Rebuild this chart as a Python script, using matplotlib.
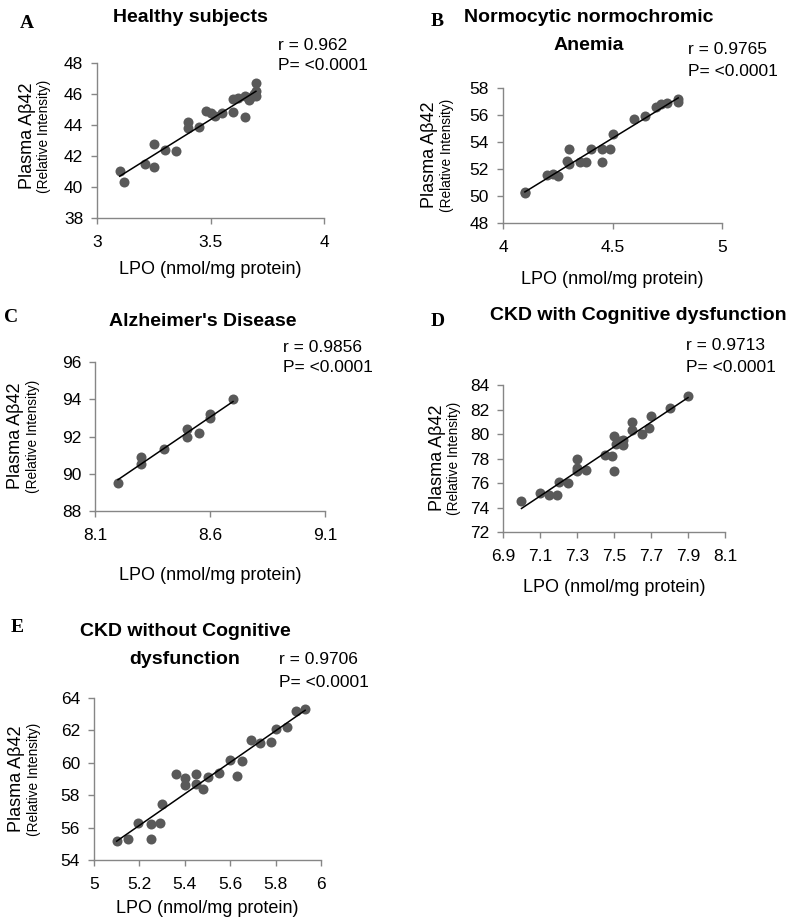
import numpy as np
import matplotlib
matplotlib.use("Agg")
import matplotlib.pyplot as plt

plt.rcParams['font.family'] = ['Liberation Sans', 'DejaVu Sans']

W, H = 794, 921

# ---- data ----
lpo_a = [3.10, 3.12, 3.21, 3.25, 3.25, 3.30, 3.35, 3.40, 3.40, 3.45, 3.48, 3.50,
         3.52, 3.55, 3.60, 3.60, 3.62, 3.65, 3.65, 3.67, 3.68, 3.69, 3.70, 3.70, 3.70]
abeta_a = [41.0, 40.3, 41.5, 42.8, 41.3, 42.4, 42.3, 44.2, 43.8, 43.9, 44.9, 44.75,
           44.6, 44.75, 44.85, 45.7, 45.75, 44.5, 45.9, 45.6, 45.8, 46.0, 46.7, 46.2, 45.9]

lpo_b = [4.10, 4.10, 4.20, 4.23, 4.25, 4.29, 4.30, 4.30, 4.35, 4.38, 4.40, 4.45,
         4.45, 4.49, 4.50, 4.60, 4.65, 4.70, 4.72, 4.75, 4.80, 4.80]
abeta_b = [50.2, 50.3, 51.55, 51.6, 51.5, 52.6, 53.5, 52.4, 52.5, 52.5, 53.5, 53.5,
           52.5, 53.5, 54.6, 55.7, 55.9, 56.6, 56.8, 56.9, 57.0, 57.2]

lpo_c = [8.20, 8.30, 8.30, 8.40, 8.50, 8.50, 8.55, 8.60, 8.60, 8.70]
abeta_c = [89.5, 90.9, 90.5, 91.35, 92.4, 92.0, 92.2, 93.2, 93.0, 94.0]

lpo_d = [7.00, 7.10, 7.15, 7.19, 7.20, 7.25, 7.30, 7.30, 7.30, 7.35, 7.45, 7.49,
         7.50, 7.50, 7.51, 7.53, 7.55, 7.55, 7.60, 7.60, 7.65, 7.69, 7.70, 7.80, 7.90]
abeta_d = [74.55, 75.2, 75.0, 75.05, 76.1, 76.0, 78.0, 77.25, 77.0, 77.1, 78.3, 78.2,
           77.0, 79.8, 79.2, 79.4, 79.1, 79.5, 81.0, 80.3, 80.0, 80.5, 81.5, 82.1, 83.1]

lpo_e = [5.10, 5.15, 5.195, 5.25, 5.25, 5.29, 5.30, 5.36, 5.40, 5.40, 5.45, 5.45,
         5.48, 5.50, 5.55, 5.60, 5.63, 5.65, 5.69, 5.73, 5.78, 5.80, 5.85, 5.89, 5.93]
abeta_e = [55.2, 55.3, 56.3, 56.2, 55.3, 56.3, 57.45, 59.3, 59.05, 58.6, 59.3, 58.7,
           58.4, 59.1, 59.4, 60.2, 59.2, 60.1, 61.4, 61.2, 61.3, 62.1, 62.2, 63.2, 63.3]

xticks_a = [3, 3.5, 4];  xlabels_a = ['3', '3.5', '4']
xticks_b = [4, 4.5, 5];  xlabels_b = ['4', '4.5', '5']
xticks_c = [8.1, 8.6, 9.1];  xlabels_c = ['8.1', '8.6', '9.1']
xticks_d = [6.9, 7.1, 7.3, 7.5, 7.7, 7.9, 8.1]
xlabels_d = ['6.9', '7.1', '7.3', '7.5', '7.7', '7.9', '8.1']
xticks_e = [5, 5.2, 5.4, 5.6, 5.8, 6]
xlabels_e = ['5', '5.2', '5.4', '5.6', '5.8', '6']
yticks_a = [38, 40, 42, 44, 46, 48]
yticks_b = [48, 50, 52, 54, 56, 58]
yticks_c = [88, 90, 92, 94, 96]
yticks_d = [72, 74, 76, 78, 80, 82, 84]
yticks_e = [54, 56, 58, 60, 62, 64]

r_values = ['0.962', '0.9765', '0.9856', '0.9713', '0.9706']
titles = [['Healthy subjects'],
          ['Normocytic normochromic', 'Anemia'],
          ["Alzheimer's Disease"],
          ['CKD with Cognitive dysfunction'],
          ['CKD without Cognitive', 'dysfunction']]
letters = ['A', 'B', 'C', 'D', 'E']

fig = plt.figure(figsize=(W / 100, H / 100), dpi=100)


def px(x, y):
    return x / W, 1 - y / H


def make_axes(l, t, r, b):
    return fig.add_axes([l / W, 1 - b / H, (r - l) / W, (b - t) / H])


def draw(ax, x, y, xt, xl, yt):
    ax.scatter(x, y, s=52, color='#595959', zorder=2, linewidths=0)
    k, c = np.polyfit(x, y, 1)
    xs = np.array([min(x), max(x)])
    ax.plot(xs, k * xs + c, color='black', lw=1.1, zorder=3)
    ax.set_xlim(xt[0], xt[-1])
    ax.set_ylim(yt[0], yt[-1])
    ax.set_xticks(xt)
    ax.set_xticklabels(xl)
    ax.set_yticks(yt)
    for s in ['top', 'right']:
        ax.spines[s].set_visible(False)
    for s in ['left', 'bottom']:
        ax.spines[s].set_color('#868686')
        ax.spines[s].set_linewidth(1)
    ax.tick_params(axis='both', colors='#868686', length=4, width=1, labelsize=12.5,
                   labelcolor='black')
    ax.tick_params(axis='x', pad=8)
    ax.tick_params(axis='y', pad=6)


panels = [
    (lpo_a, abeta_a, xticks_a, xlabels_a, yticks_a, (97, 63, 324, 218)),
    (lpo_b, abeta_b, xticks_b, xlabels_b, yticks_b, (503, 88, 722, 223)),
    (lpo_c, abeta_c, xticks_c, xlabels_c, yticks_c, (95, 362, 325, 511)),
    (lpo_d, abeta_d, xticks_d, xlabels_d, yticks_d, (503, 385, 725, 532)),
    (lpo_e, abeta_e, xticks_e, xlabels_e, yticks_e, (94, 698, 321, 860)),
]

# text positions in pixels
letter_pos = [(27, 23), (437, 22), (11, 318), (438, 322), (17, 627)]
title_pos = [(190, 18), (589, 18), (203, 322), (638, 315), (185, 632)]
title_gap = 27
stat_pos = [(278, 46, 66), (688, 50, 71), (283, 348, 368), (686, 346, 367), (279, 660, 682)]
ylab_pos = [(27, 44, 136), (430, 447, 155), (16, 33, 436), (437, 454, 458), (17, 34, 779)]
xlab_y = [270, 279, 575, 588, 908]

for i, (x, y, xt, xl, yt, box) in enumerate(panels):
    ax = make_axes(*box)
    draw(ax, x, y, xt, xl, yt)
    cx = (box[0] + box[2]) / 2

    fig.text(*px(*letter_pos[i]), letters[i], family='Liberation Serif',
             fontweight='bold', fontsize=14, ha='center', va='center')
    tx, ty = title_pos[i]
    for j, line in enumerate(titles[i]):
        fig.text(*px(tx, ty + j * title_gap), line, fontweight='bold', fontsize=14,
                 ha='center', va='center')
    sx, ry, py = stat_pos[i]
    fig.text(*px(sx, ry), 'r = ' + r_values[i], fontsize=12.5, ha='left', va='center')
    fig.text(*px(sx, py), 'P= <0.0001', fontsize=12.5, ha='left', va='center')
    l1, l2, yc = ylab_pos[i]
    fig.text(*px(l1, yc), 'Plasma Aβ42', fontsize=13, rotation=90,
             ha='center', va='center')
    fig.text(*px(l2, yc), '(Relative Intensity)', fontsize=9.8, rotation=90,
             ha='center', va='center')
    fig.text(*px(cx, xlab_y[i]), 'LPO (nmol/mg protein)', fontsize=13,
             ha='center', va='center')

fig.savefig('out.png', dpi=100)
